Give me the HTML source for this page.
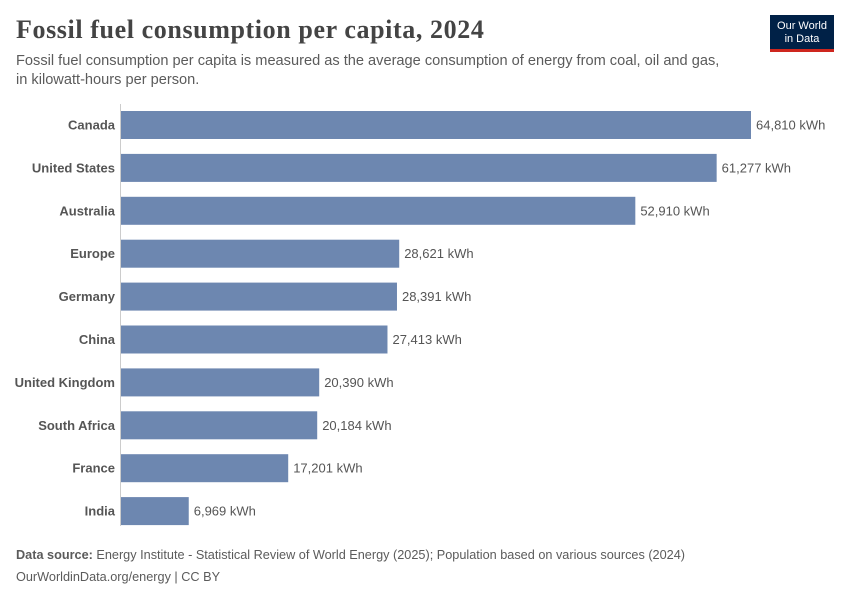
<!DOCTYPE html>
<html><head><meta charset="utf-8">
<style>
body{margin:0;background:#fff;font-family:"Liberation Sans",sans-serif;}
#wrap{position:relative;width:850px;height:600px;overflow:hidden;}
.title{position:absolute;left:16px;top:15px;font-family:"Liberation Serif",serif;font-size:26px;letter-spacing:0.6px;color:#444;font-weight:bold;}
.sub{position:absolute;left:16px;top:52px;font-size:14.6px;color:#5b5b5b;line-height:19px;}
.logo{position:absolute;left:770px;top:15px;width:64px;height:37px;background:#002147;color:#fff;font-size:11px;line-height:13px;text-align:center;box-sizing:border-box;padding-top:5px;border-bottom:3px solid #ce261e;}
.foot{position:absolute;left:16px;font-size:12.7px;color:#5b5b5b;}
</style></head><body>
<div id="wrap">
<div class="title">Fossil fuel consumption per capita, 2024</div>
<div class="sub">Fossil fuel consumption per capita is measured as the average consumption of energy from coal, oil and gas,<br>in kilowatt-hours per person.</div>
<div class="logo">Our World<br>in Data</div>
<svg id="plot" width="850" height="600" style="position:absolute;left:0;top:0"></svg>
<div class="foot" style="top:548px"><b>Data source:</b> Energy Institute - Statistical Review of World Energy (2025); Population based on various sources (2024)</div>
<div class="foot" style="top:570px">OurWorldinData.org/energy | CC BY</div>
</div>
<script>
const categories=["Canada","United States","Australia","Europe","Germany","China","United Kingdom","South Africa","France","India"];
const values=[64810,61277,52910,28621,28391,27413,20390,20184,17201,6969];
const valueLabels=["64,810 kWh","61,277 kWh","52,910 kWh","28,621 kWh","28,391 kWh","27,413 kWh","20,390 kWh","20,184 kWh","17,201 kWh","6,969 kWh"];
const NS="http://www.w3.org/2000/svg";
const svg=document.getElementById('plot');
const x0=121,xmax=751,vmax=64810;
const xs=v=>x0+v/vmax*(xmax-x0);
const y0=125,step=42.9,bh=28;
const ys=i=>y0+i*step;
const ax=document.createElementNS(NS,'line');


ax.setAttribute('x1',120.5);ax.setAttribute('x2',120.5);ax.setAttribute('y1',104);ax.setAttribute('y2',526);
ax.setAttribute('stroke','#ccc');svg.appendChild(ax);
categories.forEach((c,i)=>{
 const cy=ys(i);
 const r=document.createElementNS(NS,'rect');
 
 
 r.setAttribute('x',x0);r.setAttribute('y',cy-bh/2);r.setAttribute('width',xs(values[i])-x0);r.setAttribute('height',bh);
 r.setAttribute('fill','#6d87b0');svg.appendChild(r);
 const t=document.createElementNS(NS,'text');
 
 
 t.setAttribute('x',115);t.setAttribute('y',cy+4.5);t.setAttribute('text-anchor','end');
 t.setAttribute('font-size','13');t.setAttribute('font-weight','bold');t.setAttribute('fill','#555');
 t.setAttribute('font-family','Liberation Sans, sans-serif');t.textContent=c;svg.appendChild(t);
 const v=document.createElementNS(NS,'text');
 
 
 v.setAttribute('x',xs(values[i])+5);v.setAttribute('y',cy+4.5);
 v.setAttribute('font-size','13');v.setAttribute('fill','#555');
 v.setAttribute('font-family','Liberation Sans, sans-serif');v.textContent=valueLabels[i];svg.appendChild(v);
});
</script>
</body></html>
